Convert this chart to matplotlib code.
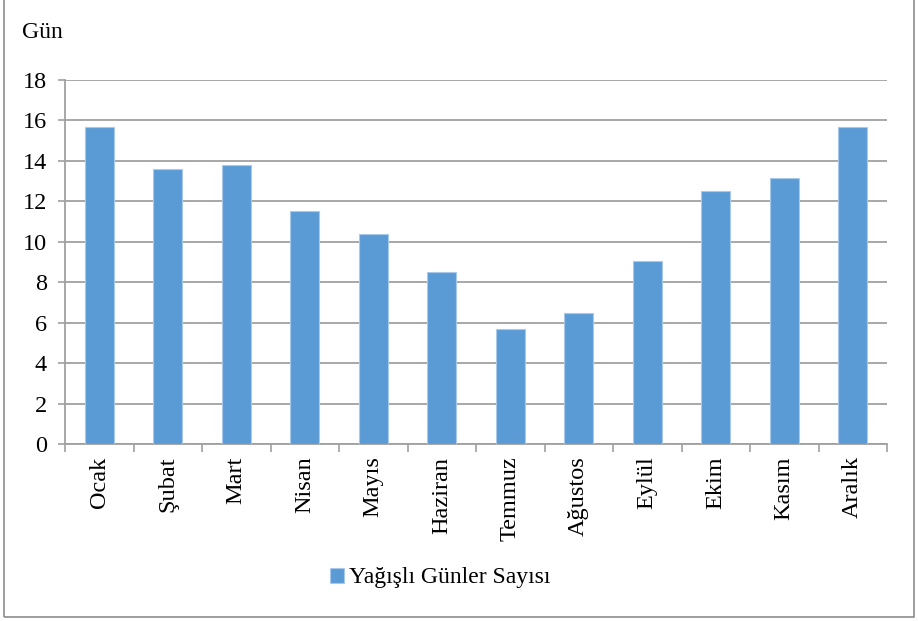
import numpy as np
import matplotlib.pyplot as plt
from matplotlib.patches import Rectangle

plt.rcParams['font.family'] = ['Liberation Serif', 'DejaVu Serif']

aylar = ["Ocak", "Şubat", "Mart", "Nisan", "Mayıs", "Haziran",
         "Temmuz", "Ağustos", "Eylül", "Ekim", "Kasım", "Aralık"]
gun_sayisi = [15.7, 13.6, 13.8, 11.5, 10.4, 8.5, 5.7, 6.5, 9.05, 12.5, 13.15, 15.7]
y_ticks = [0, 2, 4, 6, 8, 10, 12, 14, 16, 18]

fig = plt.figure(figsize=(9.18, 6.21), dpi=100)
ax = fig.add_axes([65/918, 1 - 444/621, 822/918, 364/621])

x = np.arange(len(aylar))
ax.bar(x, gun_sayisi, width=0.43, color="#5B9BD5", edgecolor="#a9c9ec",
       linewidth=0.8, label="Yağışlı Günler Sayısı", zorder=3)

ax.set_xlim(-0.5, len(aylar) - 0.5)
ax.set_ylim(0, 18)
ax.set_yticks(y_ticks)
ax.tick_params(axis='y', labelsize=17.5, length=5, width=1.2, color="#a0a0a0",
               direction='out', pad=8)
ax.yaxis.grid(True, color="#a0a0a0", linewidth=1.3, zorder=0)

# kategori ayirici tikler
ax.set_xticks(np.arange(-0.5, len(aylar)), minor=False)
ax.set_xticklabels([])
ax.tick_params(axis='x', length=6, width=1.2, color="#a0a0a0", direction='out')
ax.set_xticks(x, minor=True)
ax.set_xticklabels(aylar, minor=True, rotation=90, fontsize=17.5)
ax.tick_params(axis='x', which='minor', length=0, pad=9)

for s in ["top", "right"]:
    ax.spines[s].set_visible(False)
for s in ["left", "bottom"]:
    ax.spines[s].set_color("#a0a0a0")
    ax.spines[s].set_linewidth(1.3)

fig.text(22/918, 1 - 33/621, "Gün", fontsize=17, va='center', ha='left')

ax.legend(loc='center', bbox_to_anchor=(440/918, 1 - 578/621),
          bbox_transform=fig.transFigure, frameon=False, fontsize=17,
          handlelength=0.6, handleheight=0.6, handletextpad=0.2)

fig.patches.append(Rectangle((4/918, 4/621), 910/918, 1.1, transform=fig.transFigure,
                             fill=False, edgecolor="#8c8c8c", linewidth=1.2))

fig.savefig("out.png", dpi=100)
